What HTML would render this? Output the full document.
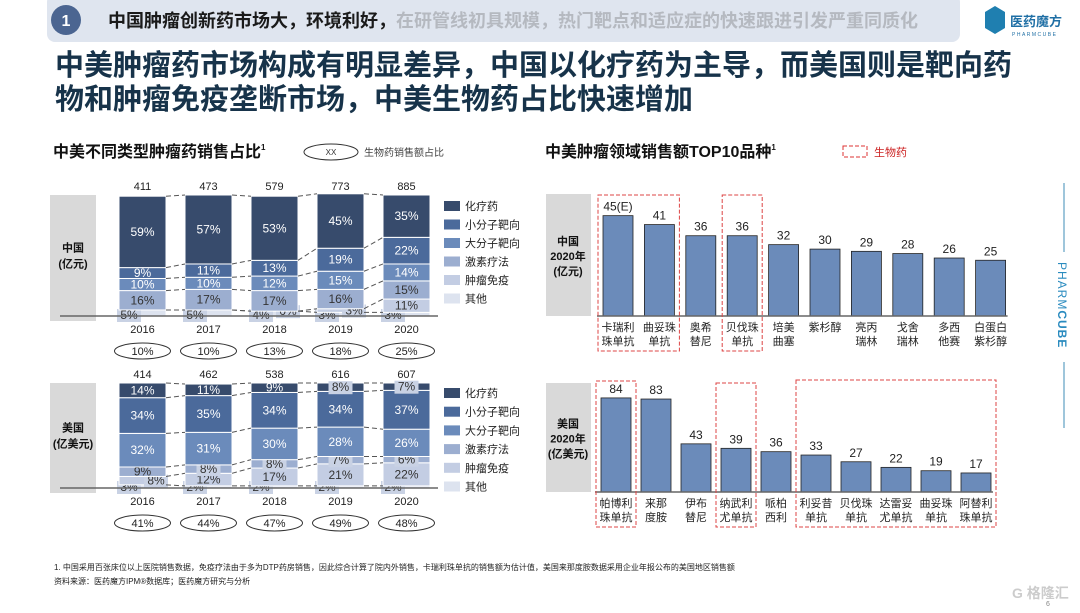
<!DOCTYPE html>
<html><head><meta charset="utf-8"><style>
body{margin:0;width:1080px;height:608px;overflow:hidden;background:#fff;font-family:"Liberation Sans","Noto Sans CJK SC",sans-serif}
svg text{font-family:"Liberation Sans","Noto Sans CJK SC",sans-serif}
</style></head><body>
<svg id="s" width="1080" height="608" xmlns="http://www.w3.org/2000/svg">
<rect x="47" y="-6" width="913" height="48" rx="8" fill="#dfe5ef"/>
<circle cx="66" cy="20" r="15" fill="#4b6591"/>
<text x="66" y="26" font-size="16" fill="#fff" text-anchor="middle" font-weight="bold">1</text>
<text x="108" y="27" font-size="18" font-weight="bold"><tspan fill="#1a1a1a">中国肿瘤创新药市场大，环境利好，</tspan><tspan fill="#b5b9c0">在研管线初具规模，热门靶点和适应症的快速跟进引发严重同质化</tspan></text>
<g>
<path d="M985 12 l10 -6 l10 6 v16 l-10 6 l-10 -6z" fill="#1f7fb0"/>
<text x="1010" y="26" font-size="13" font-weight="bold" fill="#1f6fa5">医药魔方</text>
<text x="1012" y="36" font-size="5" fill="#1f6fa5" letter-spacing="1.5">PHARMCUBE</text>
</g>
<text x="55" y="75" font-size="29" font-weight="bold" fill="#17334a">中美肿瘤药市场构成有明显差异，中国以化疗药为主导，而美国则是靶向药</text>
<text x="55" y="109" font-size="29" font-weight="bold" fill="#17334a">物和肿瘤免疫垄断市场，中美生物药占比快速增加</text>
<text x="53" y="157" font-size="16" font-weight="bold" fill="#111">中美不同类型肿瘤药销售占比<tspan font-size="8" dy="-7">1</tspan></text>
<ellipse cx="331" cy="152" rx="27" ry="8" fill="none" stroke="#333"/>
<text x="331" y="155" font-size="8" text-anchor="middle" fill="#333">XX</text>
<text x="364" y="156" font-size="10" fill="#444">生物药销售额占比</text>
<text x="545" y="157" font-size="16" font-weight="bold" fill="#111">中美肿瘤领域销售额TOP10品种<tspan font-size="8" dy="-7">1</tspan></text>
<rect x="843" y="146" width="24" height="11" fill="none" stroke="#d33" stroke-dasharray="4,2"/>
<text x="874" y="156" font-size="11" fill="#c22">生物药</text>
<line x1="1064" y1="183" x2="1064" y2="252" stroke="#7fb2cf" stroke-width="1.5"/>
<line x1="1064" y1="362" x2="1064" y2="428" stroke="#7fb2cf" stroke-width="1.5"/>
<text transform="translate(1058,262) rotate(90)" font-size="12" fill="#2a8bbf" letter-spacing="1">PHARM<tspan font-weight="bold">CUBE</tspan></text>
<text x="54" y="570" font-size="8" fill="#222">1. 中国采用百张床位以上医院销售数据，免疫疗法由于多为DTP药房销售，因此综合计算了院内外销售，卡瑞利珠单抗的销售额为估计值，美国来那度胺数据采用企业年报公布的美国地区销售额</text>
<text x="54" y="584" font-size="8" fill="#222">资料来源：医药魔方IPM®数据库；医药魔方研究与分析</text>
<text x="1012" y="598" font-size="14" font-weight="bold" fill="#ccc">G 格隆汇</text>
<text x="1046" y="606" font-size="7" fill="#888">6</text>
</svg>
<script>
const years=["2016","2017","2018","2019","2020"];
const segNames=["其他","肿瘤免疫","激素疗法","大分子靶向","小分子靶向","化疗药"];
const cnTotals=[411,473,579,773,885];
const cnOthers=[5,5,4,3,3];
const cnImmune=[0,0,0,3,11];
const cnHormone=[16,17,17,16,15];
const cnLarge=[10,10,12,15,14];
const cnSmall=[9,11,13,19,22];
const cnChemo=[59,57,53,45,35];
const cnBio=["10%","10%","13%","18%","25%"];
const usTotals=[414,462,538,616,607];
const usOthers=[3,2,2,2,2];
const usImmune=[8,12,17,21,22];
const usHormone=[9,8,8,7,6];
const usLarge=[32,31,30,28,26];
const usSmall=[34,35,34,34,37];
const usChemo=[14,11,9,8,7];
const usBio=["41%","44%","47%","49%","48%"];
const cnDrugs=["卡瑞利|珠单抗","曲妥珠|单抗","奥希|替尼","贝伐珠|单抗","培美|曲塞","紫杉醇","亮丙|瑞林","戈舍|瑞林","多西|他赛","白蛋白|紫杉醇"];
const cnSales=[45,41,36,36,32,30,29,28,26,25];
const cnSalesLbl=["45(E)","41","36","36","32","30","29","28","26","25"];
const usDrugs=["帕博利|珠单抗","来那|度胺","伊布|替尼","纳武利|尤单抗","哌柏|西利","利妥昔|单抗","贝伐珠|单抗","达雷妥|尤单抗","曲妥珠|单抗","阿替利|珠单抗"];
const usSales=[84,83,43,39,36,33,27,22,19,17];
const colors=["#dde3ef","#c3cde3","#9caed0","#6b8bbb","#4b6a9b","#374b6c"];
const S=document.getElementById('s');const NS="http://www.w3.org/2000/svg";
function mk(t,a,p){const e=document.createElementNS(NS,t);for(const k in a)e.setAttribute(k,a[k]);(p||S).appendChild(e);return e;}
function txt(x,y,s,size,fill,p,anchor){const e=mk('text',{x:x,y:y,'font-size':size,fill:fill,'text-anchor':anchor||'middle'},p);e.textContent=s;return e;}

function stacked(cfg){
 const g=mk('g',{});
 
 
 const box=mk('rect',{x:50,y:cfg.top,width:46,height:cfg.bot-cfg.top+5,fill:'#d9d9d9'},g);
 
 
 cfg.label.forEach((l,i)=>{const t=txt(73,(cfg.top+cfg.bot)/2-4+i*16,l,11,'#111',g);t.setAttribute('font-weight','bold');});
 const H=cfg.bot-cfg.top, xs=i=>119+i*66, W=47;
 const y=v=>cfg.bot-v/100*H;
 const bounds=[];
 years.forEach((yr,i)=>{
  let cum=0;const b=[0];let smallCount=0;
  cfg.series.forEach((arr,k)=>{
   const v=arr[i];const r=mk('rect',{x:xs(i),y:y(cum+v),width:W,height:Math.max(0,y(cum)-y(cum+v)),fill:colors[k],stroke:'#fff','stroke-width':1},g);
   
   
   let cy=(y(cum)+y(cum+v))/2+4;
   if(v>0||k==1&&cfg.showZero[i]){
     const tc=k>=3?'#fff':'#333';
     let lx=xs(i)+W/2;
     if(v<9){ if(k<=1){lx=xs(i)+(smallCount%2?W-10:10);smallCount++; if(k==0)cy=cfg.bot+3;}
       mk('rect',{x:lx-12,y:cy-10,width:24,height:13,fill:'#c9d2e4'},g);}
     txt(lx,cy,v+'%',12,v<9?'#333':tc,g);
   }
   cum+=v;b.push(cum);
  });
  bounds.push(b);
  txt(xs(i)+W/2,cfg.top-5,String(cfg.totals[i]),11,'#222',g);
  txt(xs(i)+W/2,cfg.bot+17,yr,11,'#222',g);
  const o=mk('ellipse',{cx:xs(i)+W/2,cy:cfg.bot+35,rx:28,ry:8,fill:'none',stroke:'#333'},g);
  
  
  txt(xs(i)+W/2,cfg.bot+39,cfg.bio[i],11,'#222',g);
 });
 for(let i=0;i<4;i++)for(let k=1;k<=6;k++){
  mk('line',{x1:xs(i)+W,y1:y(bounds[i][k]),x2:xs(i+1),y2:y(bounds[i+1][k]),stroke:'#555','stroke-dasharray':'5,3','stroke-width':1},g);
 }
 mk('line',{x1:60,y1:cfg.bot,x2:438,y2:cfg.bot,stroke:'#666','stroke-width':1.5},g);
 for(let k=5;k>=0;k--){
  const r=5-k,ly=cfg.leg0+r*cfg.legStep;
  const sq=mk('rect',{x:444,y:ly-9,width:16,height:10,fill:colors[k]},g);
  
  
  txt(465,ly,segNames[k],11,'#222',g,'start');
 }
}
stacked({name:'china-stacked-chart',top:195,bot:316,label:['中国','(亿元)'],totals:cnTotals,bio:cnBio,series:[cnOthers,cnImmune,cnHormone,cnLarge,cnSmall,cnChemo],showZero:[false,false,true,false,false],leg0:210,legStep:18.5});
stacked({name:'us-stacked-chart',top:383,bot:488,label:['美国','(亿美元)'],totals:usTotals,bio:usBio,series:[usOthers,usImmune,usHormone,usLarge,usSmall,usChemo],showZero:[false,false,false,false,false],leg0:397,legStep:18.7});

function bars(cfg){
 const g=mk('g',{});
 
 
 const box=mk('rect',{x:546,y:cfg.top,width:45,height:cfg.bot-cfg.top,fill:'#d9d9d9'},g);
 
 
 cfg.label.forEach((l,i)=>{const t=txt(568,(cfg.top+cfg.bot)/2-10+i*15,l,11,'#111',g);t.setAttribute('font-weight','bold');});
 const cx=i=>cfg.x0+i*cfg.step, h=v=>v*cfg.scale;
 cfg.vals.forEach((v,i)=>{
  const r=mk('rect',{x:cx(i)-15,y:cfg.bot-h(v),width:30,height:h(v),fill:'#6b8bba',stroke:'#222','stroke-width':0.8},g);
  
  
  txt(cx(i),cfg.bot-h(v)-5,cfg.lbls[i],12,'#222',g);
  cfg.names[i].split('|').forEach((n,j)=>txt(cx(i),cfg.bot+15+j*14,n,11,'#222',g));
 });
 mk('line',{x1:cfg.x0-21,y1:cfg.bot,x2:cx(9)+17,y2:cfg.bot,stroke:'#666','stroke-width':1.5},g);
 cfg.boxes.forEach(b=>{const r=mk('rect',{x:cx(b[0])-20,y:cfg.top+b[2],width:cx(b[1])-cx(b[0])+40,height:cfg.bot-cfg.top+35-b[2],fill:'none',stroke:'#d44','stroke-dasharray':'4,2','stroke-width':1},g);
  
  });
}
bars({name:'china-top10-chart',top:194,bot:316,x0:618,step:41.4,scale:2.23,vals:cnSales,lbls:cnSalesLbl,names:cnDrugs,label:['中国','2020年','(亿元)'],boxes:[[0,1,1],[3,3,1]]});
bars({name:'us-top10-chart',top:383,bot:492,x0:616,step:40,scale:1.12,vals:usSales,lbls:usSales.map(String),names:usDrugs,label:['美国','2020年','(亿美元)'],boxes:[[0,0,-2],[3,3,0],[5,9,-3]]});
</script>
</body></html>
